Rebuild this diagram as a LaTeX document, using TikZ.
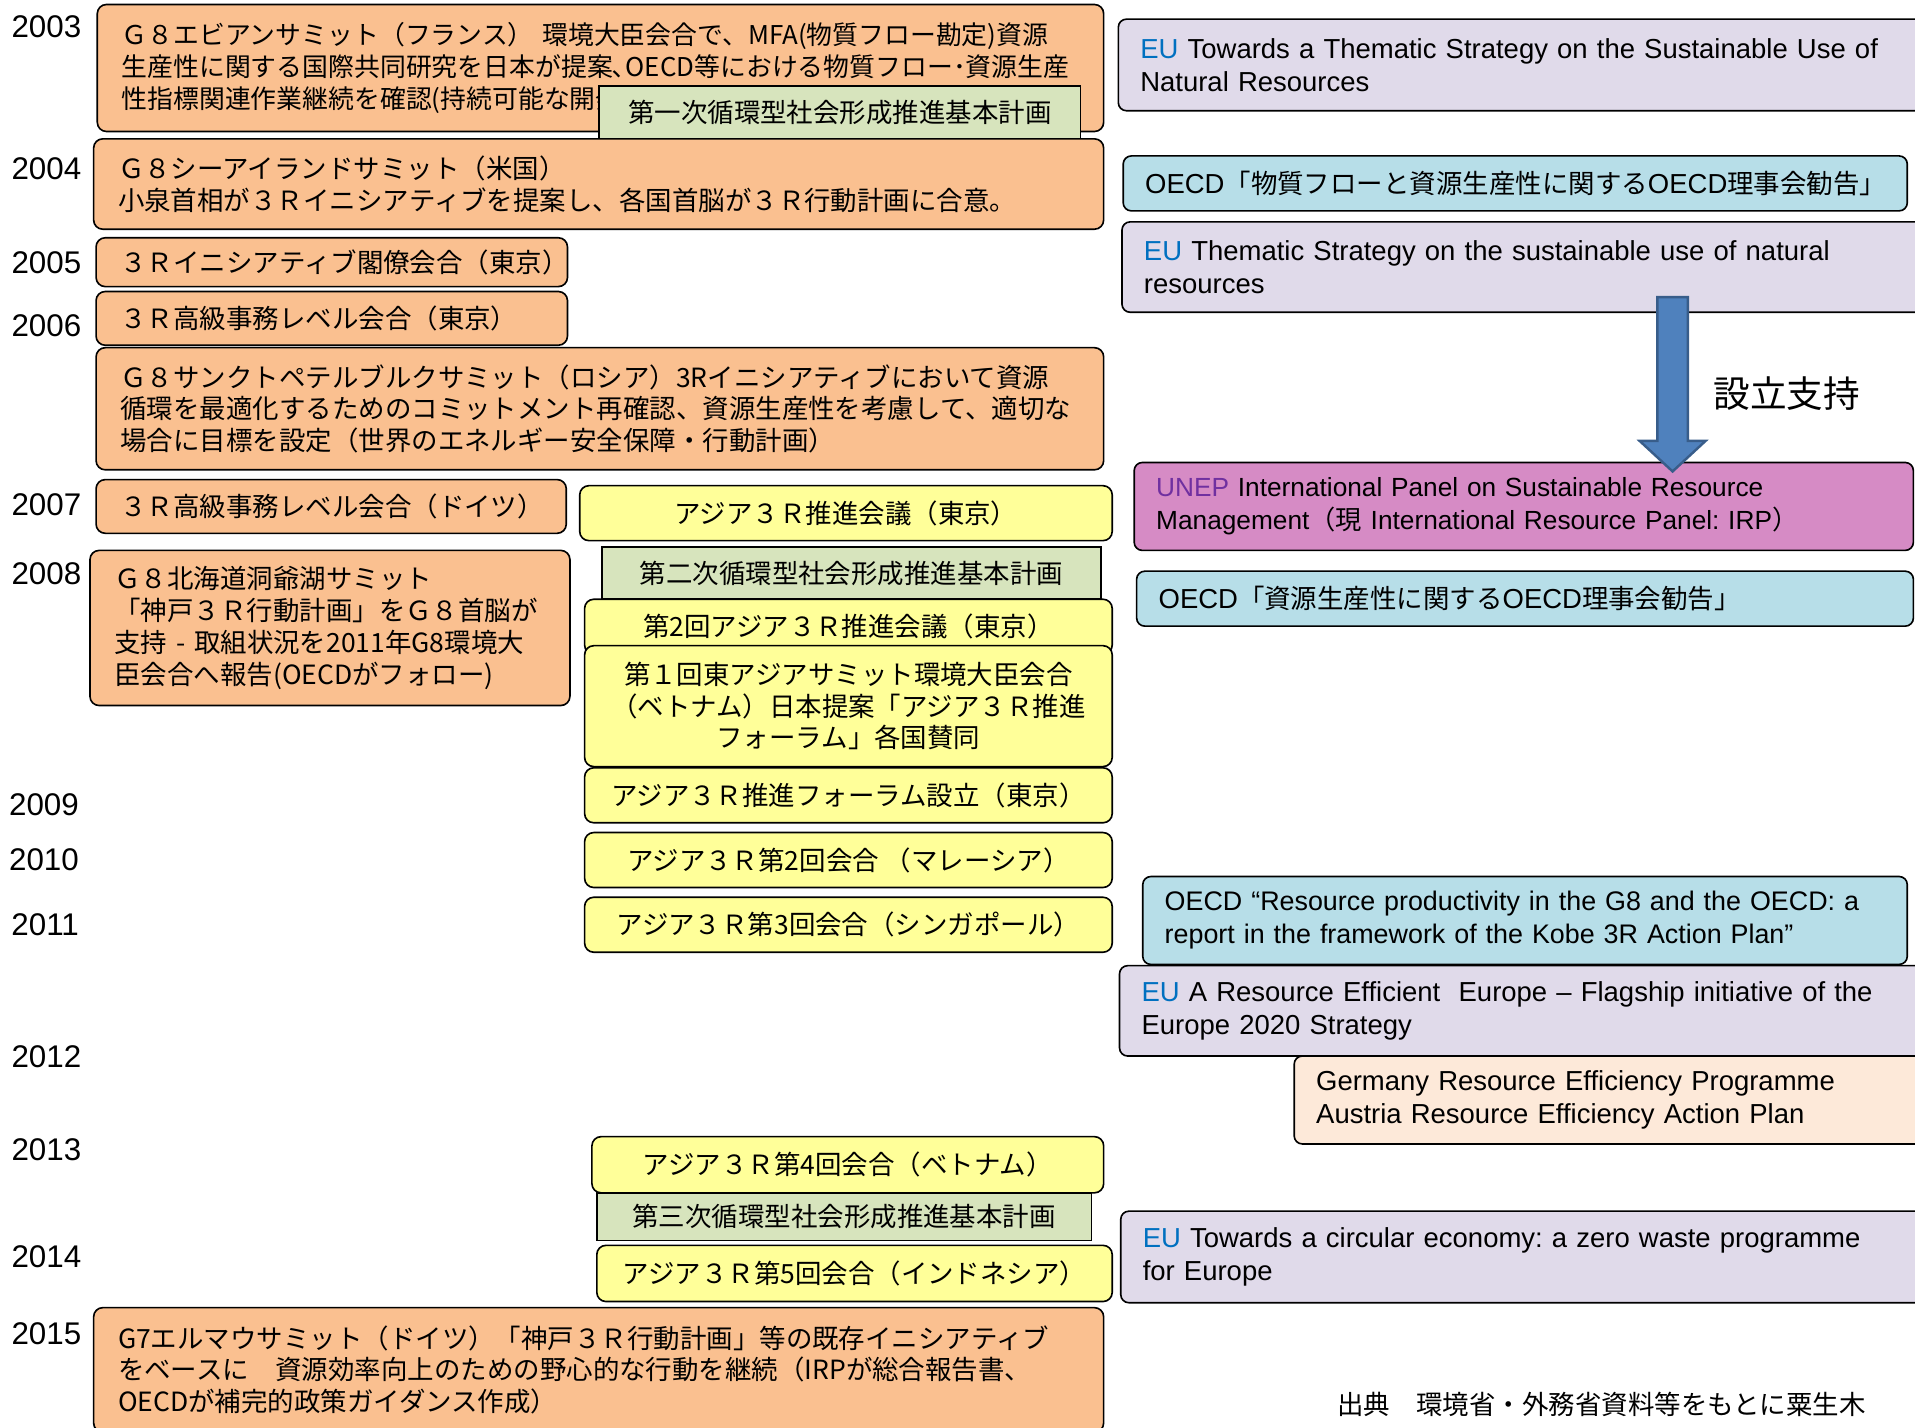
\documentclass[tikz,border=0pt]{standalone}
\usepackage{fontspec}
\setmainfont{Liberation Sans}
\newfontfamily\jp{Noto Sans CJK JP}
\usetikzlibrary{calc}
\definecolor{evtorange}{HTML}{FAC090}
\definecolor{plangreen}{HTML}{D7E4BD}
\definecolor{asiayellow}{HTML}{FFFF99}
\definecolor{eulav}{HTML}{E0DAEA}
\definecolor{oecdblue}{HTML}{B7DEE8}
\definecolor{uneppink}{HTML}{D68BC5}
\definecolor{natpeach}{HTML}{FDE9D9}
\definecolor{eublue}{HTML}{0070C0}
\definecolor{unepviolet}{HTML}{7030A0}
\definecolor{arrblue}{HTML}{4F81BD}
\definecolor{arredge}{HTML}{385D8A}
\newcommand\jptext{\jp\fontsize{13}{15.6}\selectfont}
\newcommand\entext{\frenchspacing\fontsize{13.5}{16.2}\selectfont}
\newcommand\yeartext{\fontsize{15.4}{18}\selectfont}
\newcommand\eutag{\textcolor{eublue}{EU}}

\begin{document}
\begin{tikzpicture}[x=0.6pt,y=-0.6pt,
    evt/.style={draw=black,line width=0.8pt,rounded corners=4.5pt,fill=evtorange,
      anchor=north west,inner xsep=12pt,inner ysep=0pt,align=left,font=\jptext},
    plan/.style={draw=black,line width=0.8pt,fill=plangreen,anchor=north west,
      inner sep=0pt,align=center,font=\jptext},
    asia/.style={draw=black,line width=0.8pt,rounded corners=4.5pt,fill=asiayellow,
      anchor=north west,inner sep=0pt,align=center,font=\jptext},
    intl/.style={draw=black,line width=0.8pt,rounded corners=4pt,anchor=north west,
      inner xsep=10.8pt,inner ysep=0pt,align=left,font=\entext},
    yearlbl/.style={font=\yeartext,inner sep=0pt}]
    \useasboundingbox (0,0) rectangle (1568,1169);
    \fill[white] (0,0) rectangle (1568,1169);
    \clip (0,0) rectangle (1568,1169);
    % years
    \foreach \yr/\xp/\yp in {2003/38/22,2004/38/138,2005/38/215,2006/38/267,
        2007/38/413,2008/38/470,2009/36/659,2010/36/704,2011/37/757,
        2012/38/865,2013/38/941,2014/38/1029,2015/38/1092}
      \node[yearlbl] (y\yr) at (\xp,\yp) {\yr};
    % G8 / 3R events
    \node[evt,minimum height=62.4pt,text width=470.4pt,
          font=\jp\fontsize{12.7}{15.6}\selectfont] (evian) at (79,3)
      {Ｇ８エビアンサミット（フランス） 環境大臣会合で、MFA(物質フロー勘定)資源\\
       生産性に関する国際共同研究を日本が提案､OECD等における物質フロー･資源生産\\
       性指標関連作業継続を確認(持続可能な開発};
    \node[plan,minimum width=236.4pt,minimum height=25.8pt] (plan1) at (490,70)
      {第一次循環型社会形成推進基本計画};
    \node[evt,minimum height=44.4pt,text width=472.2pt] (seaisland) at (76,113)
      {Ｇ８シーアイランドサミット（米国）\\
       小泉首相が３Ｒイニシアティブを提案し、各国首脳が３Ｒ行動計画に合意。};
    \node[evt,minimum height=24pt,text width=207.6pt] (minist) at (78,194)
      {３Ｒイニシアティブ閣僚会合（東京）};
    \node[evt,minimum height=26.4pt,text width=207.6pt] (senior1) at (78,238)
      {３Ｒ高級事務レベル会合（東京）};
    \node[evt,minimum height=60pt,text width=471pt] (stpete) at (78,284)
      {Ｇ８サンクトペテルブルクサミット（ロシア）3Rイニシアティブにおいて資源\\
       循環を最適化するためのコミットメント再確認、資源生産性を考慮して、適切な\\
       場合に目標を設定（世界のエネルギー安全保障・行動計画）};
    \node[evt,minimum height=26.4pt,text width=207pt] (senior2) at (78,392)
      {３Ｒ高級事務レベル会合（ドイツ）};
    \node[evt,minimum height=76.2pt,text width=211.8pt] (toyako) at (73,450)
      {Ｇ８北海道洞爺湖サミット\\
       「神戸３Ｒ行動計画」をＧ８首脳が\\
       支持 - 取組状況を2011年G8環境大\\
       臣会合へ報告(OECDがフォロー)};
    \node[evt,minimum height=61.2pt,text width=472.2pt] (elmau) at (76,1070)
      {G7エルマウサミット（ドイツ）「神戸３Ｒ行動計画」等の既存イニシアティブ\\
       をベースに　資源効率向上のための野心的な行動を継続（IRPが総合報告書、\\
       OECDが補完的政策ガイダンス作成）};
    % Asia 3R
    \node[asia,minimum width=261.6pt,minimum height=27pt] (asia1) at (474,397)
      {アジア３Ｒ推進会議（東京）};
    \node[plan,minimum width=245.4pt,minimum height=25.8pt] (plan2) at (492,447)
      {第二次循環型社会形成推進基本計画};
    \node[asia,minimum width=259.2pt,minimum height=27pt] (asia2) at (478,490)
      {第2回アジア３Ｒ推進会議（東京）};
    \node[asia,minimum width=259.2pt,minimum height=59.4pt] (eas) at (478,528)
      {第１回東アジアサミット環境大臣会合\\
       （ベトナム）日本提案「アジア３Ｒ推進\\
       フォーラム」各国賛同};
    \node[asia,minimum width=259.2pt,minimum height=27pt] (forum) at (478,628)
      {アジア３Ｒ推進フォーラム設立（東京）};
    \node[asia,minimum width=259.2pt,minimum height=27pt] (forum2) at (478,681)
      {アジア３Ｒ第2回会合 （マレーシア）};
    \node[asia,minimum width=259.2pt,minimum height=27pt] (forum3) at (478,734)
      {アジア３Ｒ第3回会合（シンガポール）};
    \node[asia,minimum width=251.4pt,minimum height=27.6pt] (forum4) at (484,930)
      {アジア３Ｒ第4回会合（ベトナム）};
    \node[plan,minimum width=243pt,minimum height=23.4pt] (plan3) at (488,976)
      {第三次循環型社会形成推進基本計画};
    \node[asia,minimum width=253.2pt,minimum height=27.6pt] (forum5) at (488,1019)
      {アジア３Ｒ第5回会合（インドネシア）};
    % EU / OECD / UNEP
    \node[intl,fill=eulav,minimum height=45pt,text width=377.4pt] (eu1) at (915,15)
      {\eutag{} Towards a Thematic Strategy on the Sustainable Use of\\
       Natural Resources};
    \node[intl,fill=oecdblue,minimum height=27pt,text width=363.6pt] (oecd1) at (919,127)
      {OECD{\jptext「物質フローと資源生産性に関する}OECD{\jptext 理事会勧告」}};
    \node[intl,fill=eulav,minimum height=44.4pt,text width=375.6pt] (eu2) at (918,181)
      {\eutag{} Thematic Strategy on the sustainable use of natural\\
       resources};
    \node[intl,fill=uneppink,minimum height=43.2pt,text width=361.2pt,
          font=\frenchspacing\fontsize{12.9}{16.2}\selectfont] (unep) at (928,378)
      {\textcolor{unepviolet}{UNEP} International Panel on Sustainable Resource\\
       Management{\jp\fontsize{12.9}{16.2}\selectfont （現}\ International Resource Panel: IRP{\jp\fontsize{12.9}{16.2}\selectfont ）}};
    \node[intl,fill=oecdblue,minimum height=27pt,text width=360pt] (oecd2) at (930,467)
      {OECD{\jptext「資源生産性に関する}OECD{\jptext 理事会勧告」}};
    \node[intl,fill=oecdblue,minimum height=43.2pt,text width=354pt,
          font=\frenchspacing\fontsize{13.2}{16.2}\selectfont] (oecd3) at (935,717)
      {OECD “Resource productivity in the G8 and the OECD: a\\
       report in the framework of the Kobe 3R Action Plan”};
    \node[intl,fill=eulav,minimum height=44.4pt,text width=376.8pt] (eu3) at (916,790)
      {\eutag{} A Resource Efficient~ Europe – Flagship initiative of the\\
       Europe 2020 Strategy};
    \node[intl,fill=natpeach,minimum height=43.2pt,text width=291pt] (natl) at (1059,864)
      {Germany Resource Efficiency Programme\\
       Austria Resource Efficiency Action Plan};
    \node[intl,fill=eulav,minimum height=45pt,text width=376.2pt] (eu4) at (917,991)
      {\eutag{} Towards a circular economy: a zero waste programme\\
       for Europe};
    % support arrow eu2 -> unep
    \coordinate (arrtop) at ($(eu2.south west)+(451.5,-13)$);
    \coordinate (arrtip) at ($(unep.north west)+(441.5,8)$);
    \filldraw[fill=arrblue,draw=arredge,line width=1.2pt]
      ($(arrtop)+(-12.5,0)$) -- ($(arrtip)+(-12.5,-25)$) -- ($(arrtip)+(-27,-25)$)
      -- (arrtip) -- ($(arrtip)+(27,-25)$) -- ($(arrtip)+(12.5,-25)$)
      -- ($(arrtop)+(12.5,0)$) -- cycle;
    \node[font=\jp\fontsize{18}{20}\selectfont] (support) at (1463,322) {設立支持};
    \node[font=\jptext,anchor=east,inner sep=0pt] (source) at (1528,1150)
      {出典　環境省・外務省資料等をもとに粟生木};
\end{tikzpicture}
\end{document}
